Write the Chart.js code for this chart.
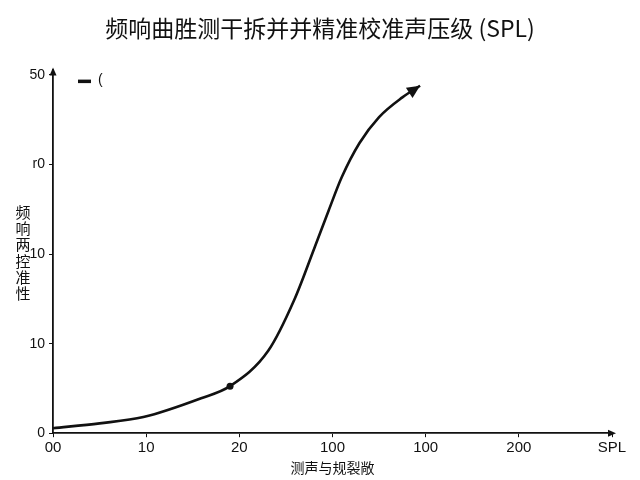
<!DOCTYPE html>
<html>
<head>
<meta charset="utf-8">
<script src="https://cdn.jsdelivr.net/npm/chart.js@4"></script>
<style>
    html, body { margin: 0; padding: 0; background: #fff; }
    #wrap { width: 640px; height: 480px; }
</style>
</head>
<body>
<div id="wrap"><canvas id="spl"></canvas></div>
<script>
// values
const chartTitle = '频响曲胜测干拆并并精准校准声压级 (SPL)';
const xTitle = '测声与规裂敞';
const yTitle = ['频', '响', '两', '控', '准', '性'];
const xLabels = ['00', '10', '20', '100', '100', '200', 'SPL'];
const yLabels = ['0', '10', '10', 'r0', '50'];
const seriesName = '(';
const curveX = [0, 0.5, 0.97, 1.59, 1.9, 2.31, 2.59, 2.81, 2.96, 3.1, 3.29, 3.5, 3.75, 3.94];
const curveY = [0.056, 0.11, 0.18, 0.39, 0.525, 0.92, 1.49, 2.08, 2.49, 2.86, 3.24, 3.53, 3.75, 3.88];
const markerIndex = 4;

const ink = '#111';
const cjk = '"Noto Sans CJK SC", "Noto Sans", sans-serif';
const latin = '"Liberation Sans", Arial, sans-serif';

function tri(ctx, x, y, angle, len, half) {
    ctx.save();
    ctx.translate(x, y);
    ctx.rotate(angle);
    ctx.beginPath();
    ctx.moveTo(0, 0);
    ctx.lineTo(-len, -half);
    ctx.lineTo(-len, half);
    ctx.closePath();
    ctx.fillStyle = ink;
    ctx.fill();
    ctx.restore();
}

// arrows on the axes and the curve end, the stacked y title and the small legend
const decorations = {
    id: 'decorations',
    afterDatasetsDraw(chart) {
        const ctx = chart.ctx;
        const area = chart.chartArea;
        tri(ctx, area.left, area.top - 2, -Math.PI / 2, 8, 3.5);
        tri(ctx, area.right + 4, area.bottom, 0, 8, 3.5);

        const pts = chart.getDatasetMeta(0).data;
        const a = pts[pts.length - 2];
        const b = pts[pts.length - 1];
        const ang = Math.atan2(b.y - a.y, b.x - a.x);
        tri(ctx, b.x, b.y, ang, 13, 6);

        ctx.save();
        ctx.fillStyle = ink;
        ctx.font = '15px ' + cjk;
        ctx.textAlign = 'center';
        ctx.textBaseline = 'middle';
        yTitle.forEach((ch, i) => ctx.fillText(ch, 23, 212 + i * 16.3));

        // legend entry
        const ds = chart.data.datasets[0];
        ctx.fillStyle = ds.borderColor;
        ctx.fillRect(area.left + 25, area.top + 10, 13, 3.5);
        ctx.font = '14px ' + latin;
        ctx.textAlign = 'left';
        ctx.fillText(ds.label, area.left + 45, area.top + 11);
        ctx.restore();
    }
};

const ctx = document.getElementById('spl').getContext('2d');
new Chart(ctx, {
    type: 'line',
    data: {
        datasets: [{
            label: seriesName,
            data: curveX.map((x, i) => ({ x: x, y: curveY[i] })),
            borderColor: ink,
            backgroundColor: ink,
            borderWidth: 2.6,
            cubicInterpolationMode: 'monotone',
            pointRadius: (c) => c.dataIndex === markerIndex ? 3.5 : 0,
            pointBackgroundColor: ink,
            pointBorderWidth: 0,
            clip: false
        }]
    },
    options: {
        responsive: true,
        maintainAspectRatio: false,
        animation: false,
        layout: { padding: { left: 28, right: 28, top: 0, bottom: 4 } },
        plugins: {
            title: {
                display: true,
                text: chartTitle,
                color: ink,
                font: { family: cjk, size: 23, weight: 'normal' },
                padding: { top: 14, bottom: 28 }
            },
            legend: { display: false },
            tooltip: { enabled: false }
        },
        scales: {
            x: {
                type: 'linear',
                min: 0,
                max: 6,
                grid: { display: true, drawOnChartArea: false, color: ink, tickLength: 4 },
                border: { display: true, color: ink, width: 1.8 },
                afterBuildTicks: (s) => { s.ticks = xLabels.map((_, i) => ({ value: i })); },
                ticks: {
                    color: ink,
                    font: { family: latin, size: 15 },
                    padding: 2,
                    maxRotation: 0,
                    callback: (v) => xLabels[v]
                },
                title: {
                    display: true,
                    text: xTitle,
                    color: ink,
                    font: { family: cjk, size: 14 },
                    padding: { top: 0, bottom: 0 }
                }
            },
            y: {
                min: 0,
                max: 4.06,
                grid: { display: true, drawOnChartArea: false, color: ink, tickLength: 4 },
                border: { display: true, color: ink, width: 1.8 },
                afterBuildTicks: (s) => { s.ticks = yLabels.map((_, i) => ({ value: i })); },
                afterFit: (s) => { s.width = 25; },
                ticks: {
                    color: ink,
                    font: { family: latin, size: 14 },
                    padding: 4,
                    callback: (v) => yLabels[v]
                }
            }
        }
    },
    plugins: [decorations]
});
</script>
</body>
</html>
